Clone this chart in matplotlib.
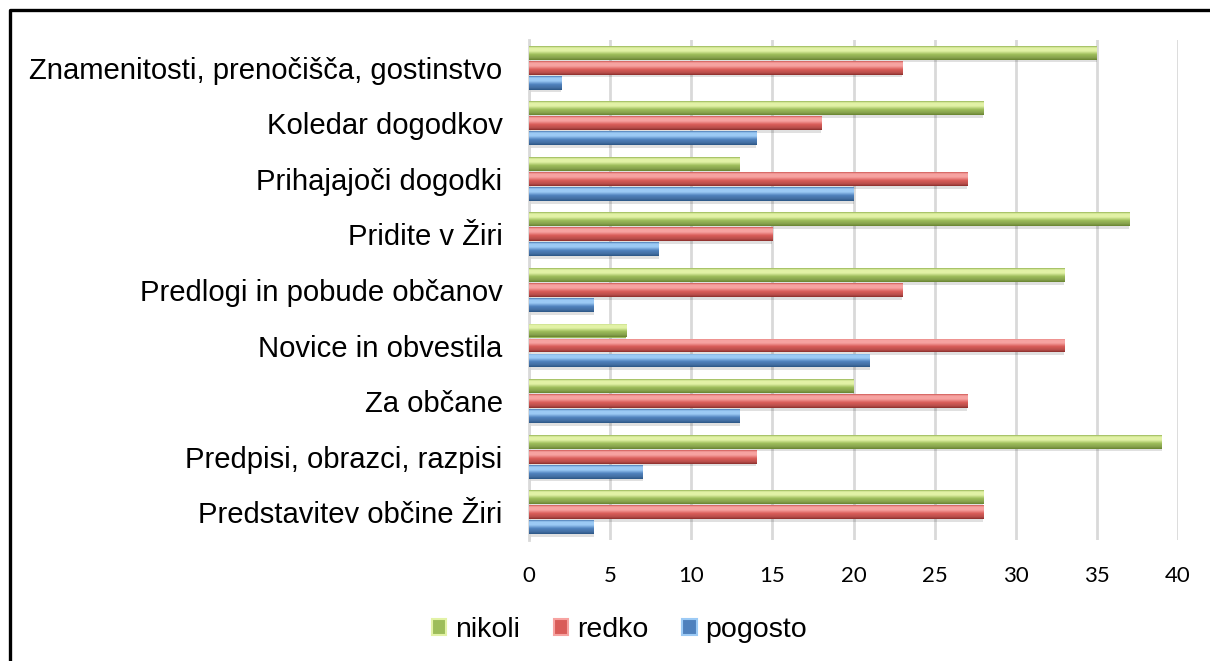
import numpy as np
import matplotlib
matplotlib.use("Agg")
import matplotlib.pyplot as plt
from matplotlib.patches import Patch
from matplotlib.lines import Line2D
from matplotlib.colors import to_rgb

categories = [
    "Znamenitosti, prenočišča, gostinstvo",
    "Koledar dogodkov",
    "Prihajajoči dogodki",
    "Pridite v Žiri",
    "Predlogi in pobude občanov",
    "Novice in obvestila",
    "Za občane",
    "Predpisi, obrazci, razpisi",
    "Predstavitev občine Žiri",
]
nikoli = [35, 28, 13, 37, 33, 6, 20, 39, 28]
redko = [23, 18, 27, 15, 23, 33, 27, 14, 28]
pogosto = [2, 14, 20, 8, 4, 21, 13, 7, 4]
series_names = ["nikoli", "redko", "pogosto"]
xticks = [0, 5, 10, 15, 20, 25, 30, 35, 40]

# (light, base, dark) per series
palette = {
    "nikoli": ("#e2f2a6", "#9dbd5a", "#67832f"),
    "redko": ("#f7a3a1", "#d95c58", "#8a2e2b"),
    "pogosto": ("#9ccaf5", "#4f81bd", "#2a5585"),
}


def gradient(light, base, dark, n=64):
    light, base, dark = map(np.array, map(to_rgb, (light, base, dark)))
    stops = [(0.0, base * 0.95), (0.12, light), (0.35, light), (0.6, base),
             (0.85, base * 0.85), (1.0, dark)]
    t = np.linspace(0, 1, n)
    img = np.zeros((n, 1, 3))
    for c in range(3):
        img[:, 0, c] = np.interp(t, [s[0] for s in stops], [s[1][c] for s in stops])
    return img


fig = plt.figure(figsize=(12.1, 6.61), dpi=100)
ax = fig.add_axes([529 / 1210, 1 - 540 / 661, 649 / 1210, 500 / 661])

y = np.arange(len(categories))
step = 0.27
bh = 0.25
data = [nikoli, redko, pogosto]
for i, (name, vals) in enumerate(zip(series_names, data)):
    # soft shadow
    ax.barh(y + (i - 1) * step + 0.05, vals, height=bh, color="#000000",
            alpha=0.12, edgecolor="none", zorder=2)
    bars = ax.barh(y + (i - 1) * step, vals, height=bh, color=palette[name][1],
                   edgecolor="none", zorder=3)
    img = gradient(*palette[name])
    for b in bars:
        x0, y0 = b.get_x(), b.get_y()
        w, h = b.get_width(), b.get_height()
        im = ax.imshow(img, extent=(x0, x0 + w, y0 + h, y0), origin="upper",
                       aspect="auto", zorder=4, interpolation="bilinear")
        im.set_clip_path(b)

ax.set_xlim(0, 40)
ax.set_ylim(len(categories) - 0.5, -0.5)
ax.set_xticks(xticks)
ax.set_xticklabels([str(t) for t in xticks], fontsize=16, family="Lato")
ax.set_yticks(y)
ax.set_yticklabels(categories, fontsize=21.1, family="Liberation Sans")
ax.tick_params(axis="both", length=0)
ax.tick_params(axis="y", pad=19)
ax.tick_params(axis="x", pad=19)
ax.grid(axis="x", color="#d9d9d9", linewidth=2, zorder=0)
for s in ["top", "right", "bottom"]:
    ax.spines[s].set_visible(False)
ax.spines["left"].set_color("#d9d9d9")
ax.spines["left"].set_linewidth(2)

handles = [Patch(facecolor=palette[n][1], edgecolor=palette[n][0], linewidth=1.5)
           for n in series_names]
fig.legend(handles, series_names, loc="center", bbox_to_anchor=(0.512, 0.047),
           ncol=3, frameon=False, prop={"family": "Liberation Sans", "size": 20.5},
           handlelength=0.5, handleheight=0.5, handletextpad=0.3, columnspacing=1.2)

# frame around chart (top and left edge visible)
fig.add_artist(Line2D([9.5 / 1210, 9.5 / 1210, 1], [0, 1 - 10 / 661, 1 - 10 / 661],
                      transform=fig.transFigure, color="black", linewidth=2.4))

fig.savefig("out.png", dpi=100)
